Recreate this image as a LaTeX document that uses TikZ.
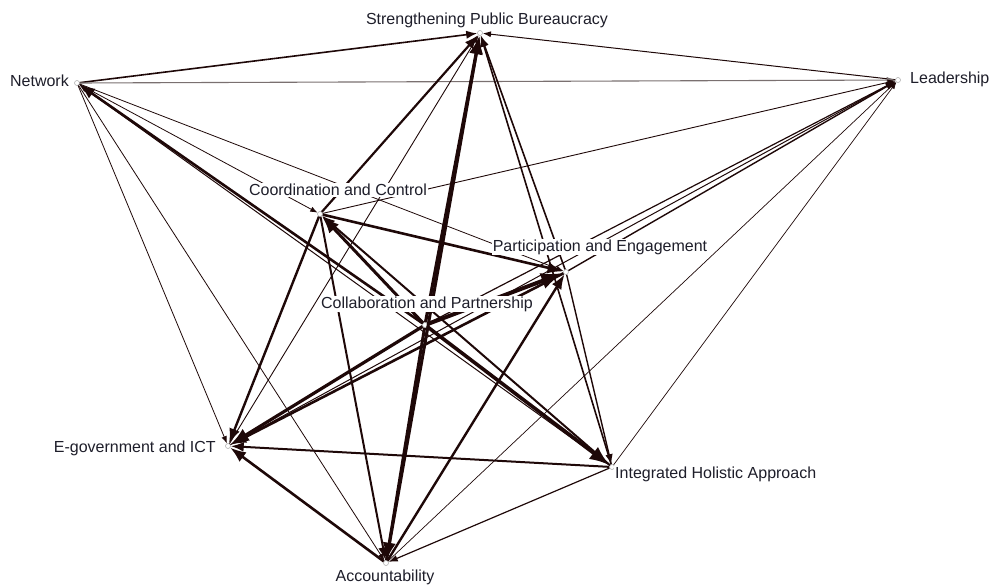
\documentclass[tikz,border=0pt]{standalone}
\usepackage{fontspec}
\setmainfont{Liberation Sans}
\usetikzlibrary{arrows.meta}
\definecolor{ec}{HTML}{1E0808}
\definecolor{tc}{HTML}{1E1E2A}
\definecolor{gl}{HTML}{7A7070}
\begin{document}
\begin{tikzpicture}[x=1pt,y=-1pt,
 pt/.style={circle,draw=gray!60,fill=white,inner sep=0pt,minimum size=5pt,line width=0.6pt},
 lab/.style={font=\fontsize{16}{19}\selectfont,text=tc,fill=white,inner sep=1pt},
 ed/.style={draw=ec,line width=#1,-{Latex[length=3.5pt 4.7]}},
]
\useasboundingbox (0,0) rectangle (992,587);
\node[pt] (S) at (480,33) {};
\node[pt] (N) at (77,83) {};
\node[pt] (L) at (898,80) {};
\node[pt] (C) at (320,214) {};
\node[pt] (P) at (566,272) {};
\node[pt] (B) at (425,325) {};
\node[pt] (E) at (228,446) {};
\node[pt] (I) at (612,467) {};
\node[pt] (A) at (386,563) {};
% edges
\draw[ed=1.6] (N) -- (S);
\draw[ed=1.0] (L) -- (S);
\draw[ed=1.1,draw=gl] (N) -- (L);
\draw[ed=0.8] (N) -- (C);
\draw[ed=0.8] (N) -- (P);
\draw[ed=2.6] (B) -- (N);
\draw[ed=1.0] (I) -- (N);
\draw[ed=0.8] (N) -- (E);
\draw[ed=0.8] (N) -- (A);
\draw[ed=0.9] (C) -- (L);
\draw[ed=1.4] (P) -- (L);
\draw[ed=1.2] (B) -- (L);
\draw[ed=1.0] (E) -- (L);
\draw[ed=0.7] (I) -- (L);
\draw[ed=0.7] (A) -- (L);
\draw[ed=2.2] (C) -- (S);
\draw[ed=0.9] (E) -- (S);
\draw[ed=3.2] (B) -- (S);
\draw[ed=3.0] (A) -- (S);
\draw[ed=1.6] (P) -- (S);
\draw[ed=1.6] (I) -- (S);
\draw[ed=2.6] (C) -- (P);
\draw[ed=3.0] (B) -- (C);
\draw[ed=2.0] (I) -- (C);
\draw[ed=4.0] (B) -- (P);
\draw[ed=2.6] (P) -- (E);
\draw[ed=3.2] (B) -- (E);
\draw[ed=1.4] (P) -- (I);
\draw[ed=2.4] (A) -- (P);
\draw[ed=2.0] (I) -- (E);
\draw[ed=2.6] (A) -- (E);
\draw[ed=2.4] (C) -- (E);
\draw[ed=2.0] (C) -- (A);
\draw[ed=3.0] (B) -- (A);
\draw[ed=1.2] (I) -- (A);
\draw[ed=3.6] (B) -- (I);
% labels
\node[lab] (Sl) at (487,20) {Strengthening Public Bureaucracy};
\node[lab,anchor=east] (Nl) at (70,81) {Network};
\node[lab,anchor=west] (Ll) at (909,79) {Leadership};
\node[lab] (Cl) at (338,190) {Coordination and Control};
\node[lab] (Pl) at (600,247) {Participation and Engagement};
\node[lab] (Bl) at (427,304) {Collaboration and Partnership};
\node[lab,anchor=east] (El) at (217,448) {E-government and ICT};
\node[lab,anchor=west] (Il) at (614,474) {Integrated Holistic Approach};
\node[lab] (Al) at (385,577) {Accountability};
\end{tikzpicture}
\end{document}
